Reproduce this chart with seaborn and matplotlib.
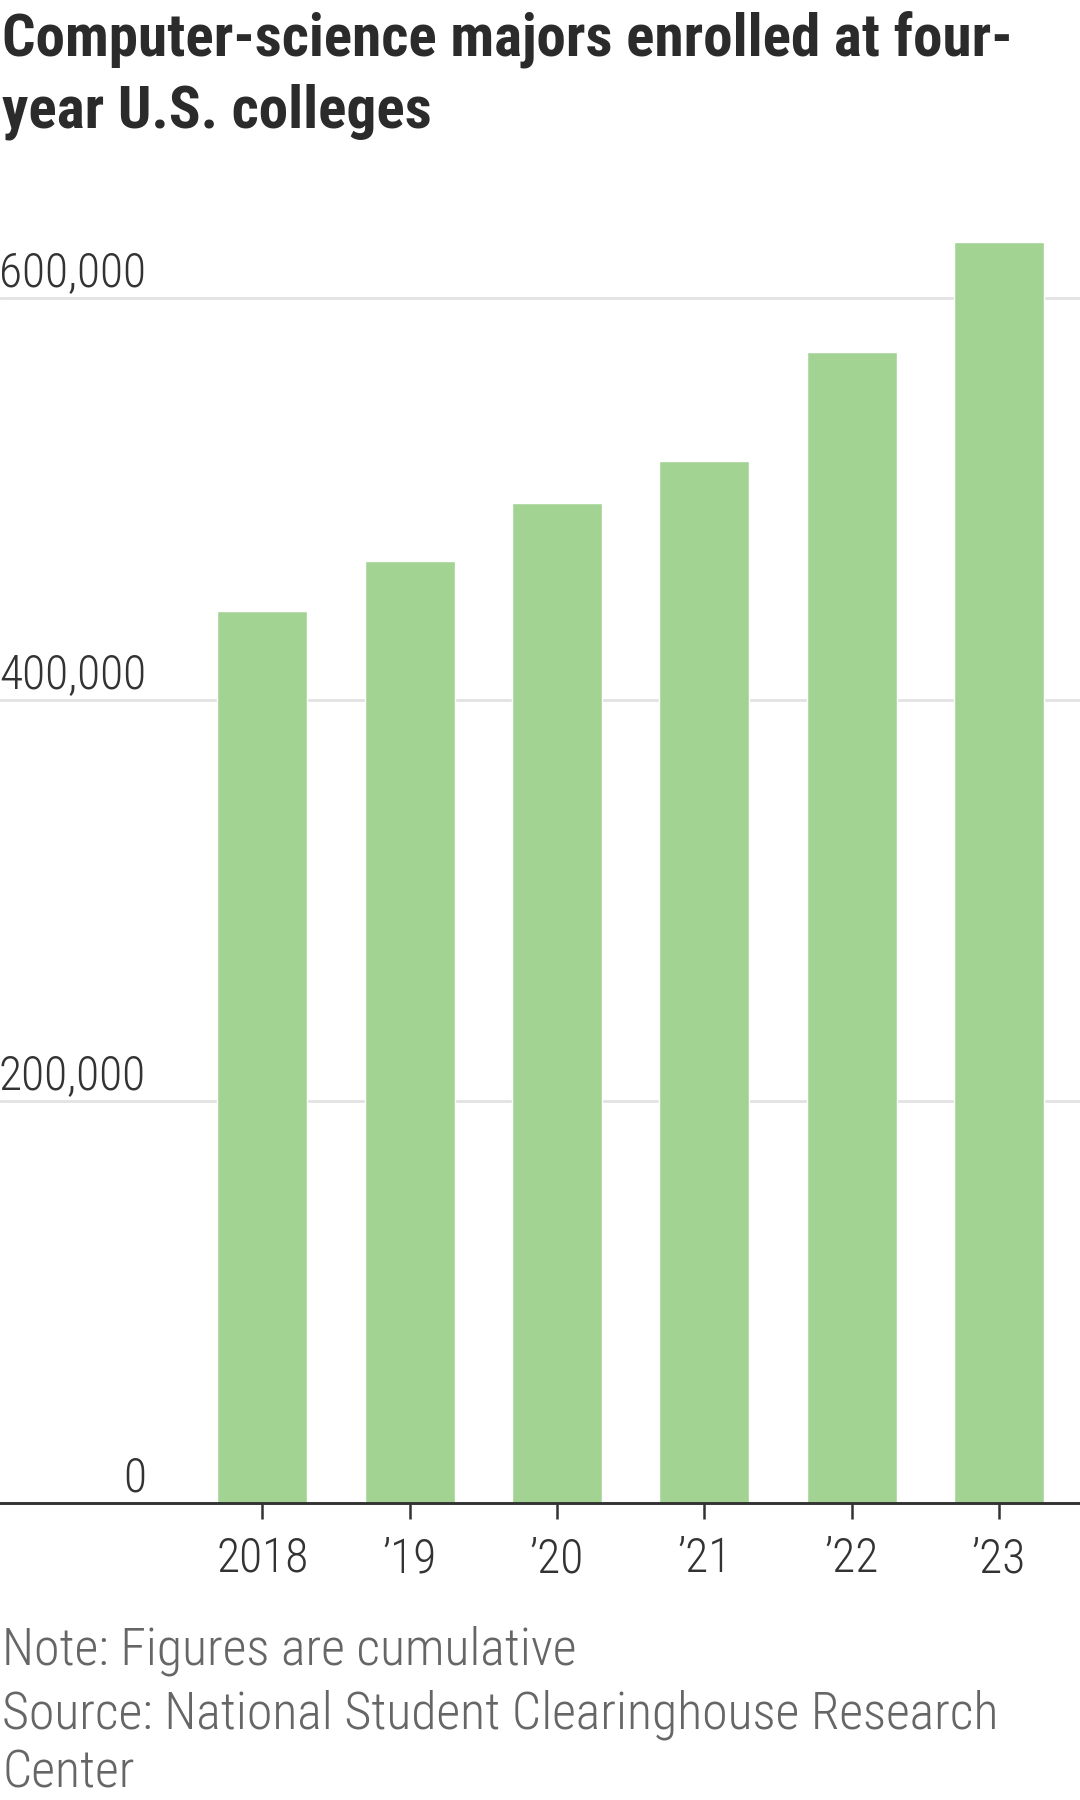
import matplotlib
matplotlib.use('Agg')
import matplotlib.pyplot as plt
import matplotlib.transforms as mtransforms
from matplotlib import font_manager
import pandas as pd
import seaborn as sns

# values
years = ['2018', '\u201919', '\u201920', '\u201921', '\u201922', '\u201923']
majors = [444000, 469000, 498000, 519000, 573000, 628000]
yticks = [0, 200000, 400000, 600000]
ytick_labels = ['0', '200,000', '400,000', '600,000']
title_lines = ['Computer-science majors enrolled at four-', 'year U.S. colleges']
note_lines = ['Note: Figures are cumulative',
              'Source: National Student Clearinghouse Research',
              'Center']

sns.set_style('white')

# pick a narrow face if one is installed
entries = font_manager.fontManager.ttflist
fam, stretch = 'DejaVu Sans', 'normal'
for name in ['Roboto Condensed', 'Liberation Sans Narrow', 'Open Sans Condensed',
             'Noto Sans Condensed']:
    if any(f.name == name for f in entries):
        fam = name
        break
else:
    if any(f.name == 'DejaVu Sans' and 'condensed' in str(f.stretch) for f in entries):
        stretch = 'condensed'
    elif any(f.name == 'Roboto' for f in entries):
        fam = 'Roboto'
plt.rcParams['font.family'] = [fam, 'DejaVu Sans']
plt.rcParams['font.stretch'] = stretch

W, H = 1080, 1800
base_px, top_px = 1503, 197.5
fig = plt.figure(figsize=(W / 100, H / 100), dpi=100)
ax = fig.add_axes([0, 1 - base_px / H, 1, (base_px - top_px) / H])

df = pd.DataFrame({'year': years, 'majors': majors})
sns.barplot(data=df, x='year', y='majors', color='#a3d393', width=0.61,
            saturation=1, ax=ax)

ax.set_xlim(-1.78, 5.55)
ax.set_ylim(0, 650000)
ax.set_xlabel('')
ax.set_ylabel('')

ax.set_yticks(yticks)
ax.yaxis.grid(True, color='#e2e2e2', lw=2)
ax.set_axisbelow(True)
ax.tick_params(axis='y', length=0, labelleft=False)
ax.tick_params(axis='x', bottom=True, length=11.5, width=1.8, color='#333333',
               pad=12.5, labelsize=35, labelcolor='#333333')
for t in ax.get_xticklabels():
    t.set_fontweight('light')

for s in ['left', 'right', 'top']:
    ax.spines[s].set_visible(False)
ax.spines['bottom'].set_color('#333333')
ax.spines['bottom'].set_linewidth(2.1)

trans = mtransforms.offset_copy(ax.get_yaxis_transform(), fig=fig, x=0, y=8.5, units='points')
ylabs = []
for v, lab in zip(yticks, ytick_labels):
    ylabs.append(ax.text(146 / W, v, lab, transform=trans, ha='right', va='baseline',
                         fontsize=35, fontweight='light', color='#333333'))

# title
titles = []
for line, base in zip(title_lines, [55, 128]):
    titles.append(fig.text(2 / W, 1 - base / H, line, ha='left', va='baseline',
                           fontsize=39.5, fontweight='bold', color='#2b2b2b'))

# note and source
notes = []
for line, base in zip(note_lines, [1665, 1729, 1788]):
    notes.append(fig.text(2 / W, 1 - base / H, line, ha='left', va='baseline',
                          fontsize=34, fontweight='light', color='#666666'))

# size the texts to the widths they have in the reference
fig.canvas.draw()
r = fig.canvas.get_renderer()

def scale_for(t, width):
    return width / t.get_window_extent(r).width

k = scale_for(titles[0], 1011)
for t in titles:
    t.set_fontsize(t.get_fontsize() * k)
k = scale_for(notes[1], 997)
for t in notes:
    t.set_fontsize(t.get_fontsize() * k)
k = scale_for(ylabs[-1], 148)
for t in ylabs:
    t.set_fontsize(t.get_fontsize() * k)
ax.tick_params(axis='x', labelsize=35 * k)

fig.savefig('out.png', dpi=100)
